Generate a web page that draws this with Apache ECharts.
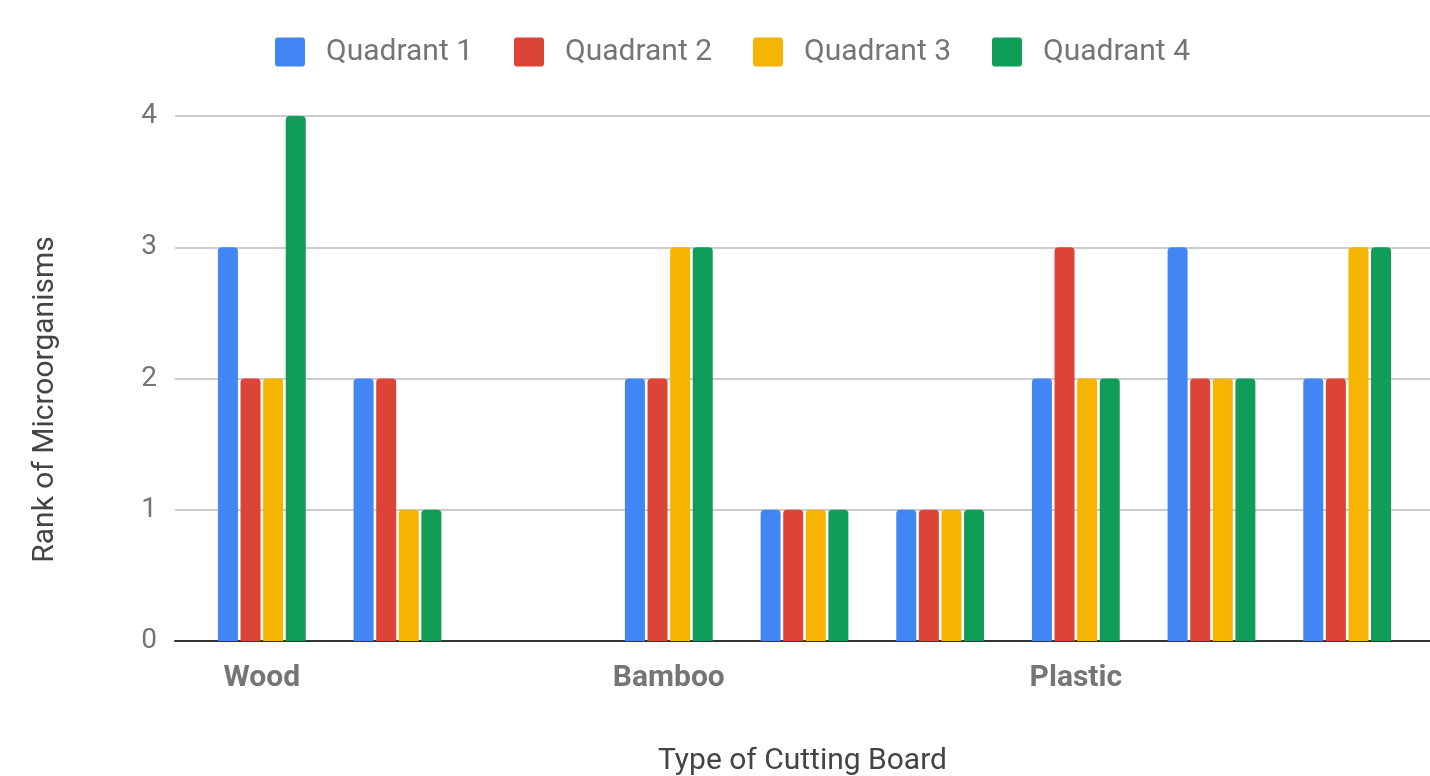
<!DOCTYPE html>
<html><head><meta charset="utf-8">
<script src="https://cdn.jsdelivr.net/npm/echarts@6/dist/echarts.min.js"></script>
<style>html,body{margin:0;padding:0;background:#fff}#c{width:1430px;height:776px}</style>
</head><body><div id="c"></div>
<script>
const categories = ['Wood', '', '', 'Bamboo', '', '', 'Plastic', '', ''];
const seriesNames = ['Quadrant 1', 'Quadrant 2', 'Quadrant 3', 'Quadrant 4'];
const q1 = [3, 2, null, 2, 1, 1, 2, 3, 2];
const q2 = [2, 2, null, 2, 1, 1, 3, 2, 2];
const q3 = [2, 1, null, 3, 1, 1, 2, 2, 3];
const q4 = [4, 1, null, 3, 1, 1, 2, 2, 3];
const yTicks = [0, 1, 2, 3, 4];
const colors = ['#4285F4', '#DB4437', '#F4B400', '#0F9D58'];
const values = [q1, q2, q3, q4];

const font = 'Roboto, sans-serif';
const chart = echarts.init(document.getElementById('c'), null, {renderer: 'canvas'});
chart.setOption({
  animation: false,
  color: colors,
  textStyle: {fontFamily: font},
  legend: {
    top: 32, left: 270,
    itemWidth: 30, itemHeight: 29, itemGap: 41,
    icon: 'path://M3,0 H27 Q30,0 30,3 V26 Q30,29 27,29 H3 Q0,29 0,26 V3 Q0,0 3,0 Z',
    data: seriesNames,
    textStyle: {fontSize: 30, color: '#757575', fontFamily: font, padding: [0, 0, 0, 16]}
  },
  grid: [
    {left: 175, right: 0, top: 116, height: 525, containLabel: false, outerBoundsMode: 'none'},
    {left: 194, right: 15, top: 116, height: 525, containLabel: false, outerBoundsMode: 'none'}
  ],
  xAxis: [
    {gridIndex: 0, type: 'category', data: categories,
     axisLine: {lineStyle: {color: '#333', width: 2}}, axisTick: {show: false}, axisLabel: {show: false},
     name: 'Type of Cutting Board', nameLocation: 'middle', nameGap: 105,
     nameTextStyle: {fontSize: 30, color: '#444', fontFamily: font, verticalAlign: 'top'}},
    {gridIndex: 1, type: 'category', data: categories,
     axisLine: {show: false}, axisTick: {show: false},
     axisLabel: {show: true, interval: 0, margin: 22, fontSize: 30, fontWeight: 'bold', color: '#757575', fontFamily: font}}
  ],
  yAxis: [
    {gridIndex: 0, type: 'value', min: yTicks[0], max: yTicks[yTicks.length - 1], interval: 1,
     axisLine: {show: false}, axisTick: {show: false},
     axisLabel: {margin: 18, fontSize: 28, color: '#757575', fontFamily: font},
     splitLine: {lineStyle: {color: '#cccccc', width: 2}},
     name: 'Rank of Microorganisms', nameLocation: 'middle', nameGap: 115,
     nameTextStyle: {fontSize: 30, color: '#444', fontFamily: font, padding: [0, 42, 0, 0]}},
    {gridIndex: 1, type: 'value', min: yTicks[0], max: yTicks[yTicks.length - 1], interval: 1,
     show: false, splitLine: {show: false}}
  ],
  series: values.map((v, i) => ({
    name: seriesNames[i], type: 'bar', xAxisIndex: 1, yAxisIndex: 1,
    data: v, barWidth: 20, barGap: '13%',
    itemStyle: {color: colors[i], borderRadius: [4, 4, 0, 0]}
  }))
});
</script></body></html>
